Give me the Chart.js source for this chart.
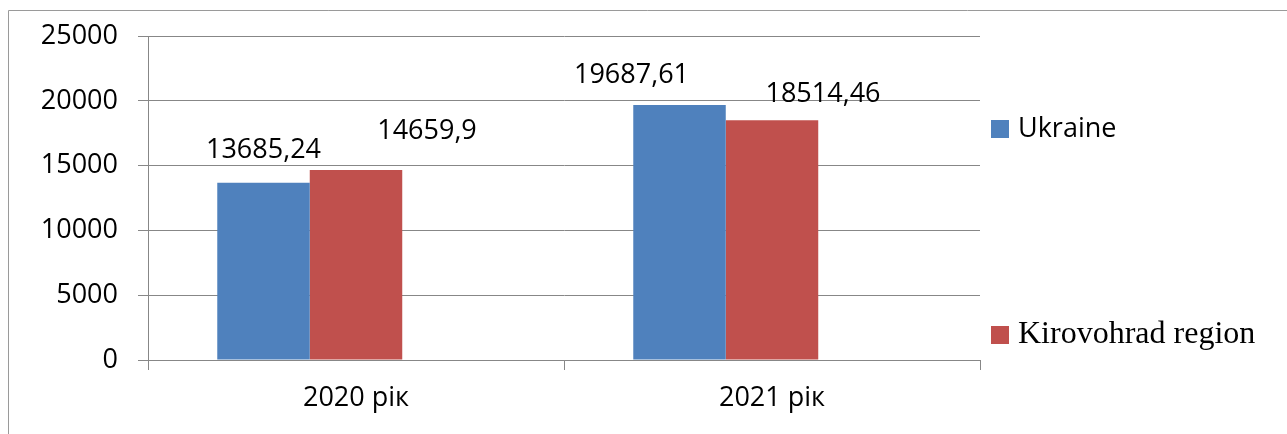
<!DOCTYPE html>
<html>
<head>
<meta charset="utf-8">
<script src="https://cdn.jsdelivr.net/npm/chart.js@4"></script>
<style>
  body { margin: 0; background: #fff; }
  canvas { display: block; }
</style>
</head>
<body>
<canvas id="chart" width="1287" height="434"></canvas>
<script>
// --- data ---
const categories = ['2020 рік', '2021 рік'];
const seriesNames = ['Ukraine', 'Kirovohrad region'];
const ukraineValues = [13685.24, 19687.61];
const kirovohradValues = [14659.9, 18514.46];
const yTicks = [0, 5000, 10000, 15000, 20000, 25000];

// the value labels were nudged by hand in the source: [dx, dy] from the bar top
const labelOffsets = [
    [[0, -32], [-48, -30]],   // Ukraine
    [[71, -39], [51, -26]]    // Kirovohrad region
];

const BLUE = '#4F81BD';
const RED = '#C0504D';
const GRID = '#878787';
const SANS = '"Open Sans"';

// white page + the thin frame on the left and top
const framePlugin = {
    id: 'frame',
    beforeDraw(chart) {
        const ctx = chart.ctx;
        ctx.save();
        ctx.fillStyle = '#fff';
        ctx.fillRect(0, 0, chart.width, chart.height);
        ctx.strokeStyle = '#9a9a9a';
        ctx.lineWidth = 1;
        ctx.beginPath();
        ctx.moveTo(8.5, chart.height);
        ctx.lineTo(8.5, 10.5);
        ctx.lineTo(chart.width, 10.5);
        ctx.stroke();
        ctx.restore();
    }
};

// numbers above the bars, with a comma as decimal mark
const valueLabels = {
    id: 'valueLabels',
    afterDatasetsDraw(chart) {
        const ctx = chart.ctx;
        ctx.save();
        ctx.font = '27px ' + SANS;
        ctx.fillStyle = '#000';
        ctx.textAlign = 'center';
        ctx.textBaseline = 'middle';
        [0, 1].forEach(di => {
            chart.getDatasetMeta(di).data.forEach((bar, i) => {
                const v = chart.data.datasets[di].data[i];
                const [dx, dy] = labelOffsets[di][i];
                ctx.fillText(String(v).replace('.', ','), bar.x + dx, bar.y + dy);
            });
        });
        ctx.restore();
    }
};

// legend on the right: entries far apart, second one in a serif face
const sideLegend = {
    id: 'sideLegend',
    afterDraw(chart) {
        const ctx = chart.ctx;
        const items = [
            { text: seriesNames[0], color: BLUE, y: 129, font: '27px ' + SANS },
            { text: seriesNames[1], color: RED, y: 335, font: '32px "Liberation Serif"' }
        ];
        ctx.save();
        ctx.textAlign = 'left';
        ctx.textBaseline = 'middle';
        items.forEach(it => {
            ctx.fillStyle = it.color;
            ctx.fillRect(991, it.y - 9, 18, 18);
            ctx.fillStyle = '#000';
            ctx.font = it.font;
            ctx.fillText(it.text, 1018, it.y);
        });
        ctx.restore();
    }
};

new Chart(document.getElementById('chart'), {
    type: 'bar',
    data: {
        labels: categories,
        datasets: [
            { label: seriesNames[0], data: ukraineValues, backgroundColor: BLUE },
            { label: seriesNames[1], data: kirovohradValues, backgroundColor: RED },
            // empty third series in the source, keeps the bars pushed left
            { label: '', data: [null, null], backgroundColor: 'rgba(0,0,0,0)' }
        ]
    },
    options: {
        responsive: false,
        animation: false,
        devicePixelRatio: 1,
        layout: { padding: { top: 33, right: 307, left: 0, bottom: 0 } },
        datasets: {
            bar: { categoryPercentage: 0.667, barPercentage: 1, borderWidth: 0 }
        },
        plugins: {
            legend: { display: false },
            tooltip: { enabled: false }
        },
        scales: {
            x: {
                grid: {
                    offset: true,
                    drawOnChartArea: false,
                    color: GRID,
                    tickLength: 10
                },
                border: { color: GRID },
                ticks: {
                    color: '#000',
                    font: { family: 'Open Sans', size: 27 },
                    padding: 12
                },
                afterFit(scale) { scale.height = 74; }
            },
            y: {
                min: yTicks[0],
                max: yTicks[yTicks.length - 1],
                grid: { color: GRID, tickLength: 10 },
                border: { color: GRID },
                afterBuildTicks(scale) {
                    scale.ticks = yTicks.map(v => ({ value: v }));
                },
                ticks: {
                    color: '#000',
                    font: { family: 'Open Sans', size: 27 },
                    padding: 20,
                    callback: v => String(v)
                },
                afterFit(scale) { scale.width = 148; }
            }
        }
    },
    plugins: [framePlugin, valueLabels, sideLegend]
});
</script>
</body>
</html>
